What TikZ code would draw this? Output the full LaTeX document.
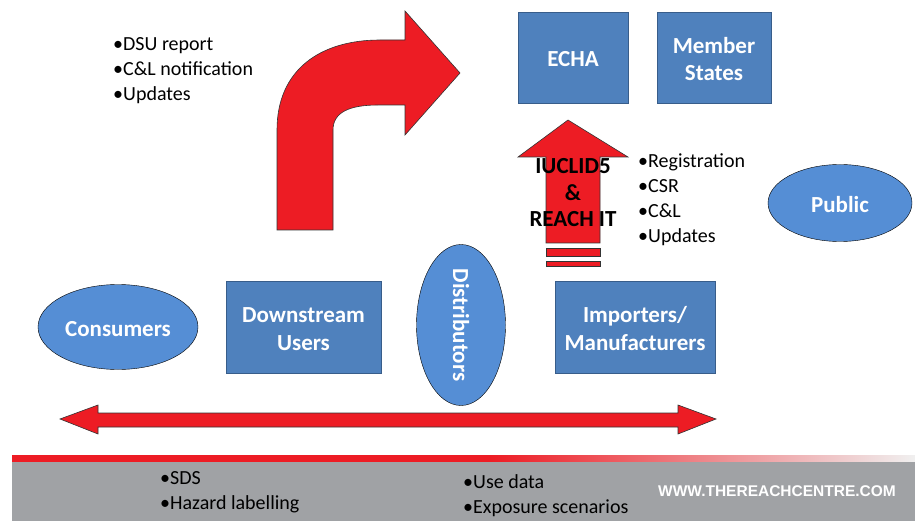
\documentclass[tikz,border=0pt]{standalone}
\usepackage{fontspec}
\setmainfont{Carlito}
\newfontfamily\webfont{Liberation Sans}
\usepackage{tikz}
\usetikzlibrary{shapes.geometric,positioning}

\definecolor{boxblue}{RGB}{79,129,189}
\definecolor{boxline}{RGB}{56,93,138}
\definecolor{ovalblue}{RGB}{85,142,213}
\definecolor{arrowred}{RGB}{237,28,36}
\definecolor{bandgray}{RGB}{160,162,165}

\tikzset{
  box/.style={draw=boxline, fill=boxblue, text=white, align=center,
    font=\fontsize{23}{27.5}\selectfont\bfseries},
  oval/.style={ellipse, draw=black, fill=ovalblue, text=white, inner sep=0pt,
    font=\fontsize{23}{27.5}\selectfont\bfseries},
  redshape/.style={draw=black!80, fill=arrowred, line width=0.6pt},
  listtxt/.style={anchor=north west, align=left, inner sep=0pt,
    font=\fontsize{20}{25}\selectfont},
}

\begin{document}
\begin{tikzpicture}[x=1pt,y=-1pt]
\useasboundingbox (0,0) rectangle (915,521);

% turning arrow
\draw[redshape] (277,230) -- (277,130) .. controls (277,70) and (320,40) .. (380,40)
  -- (405,40) -- (405,11) -- (460,73) -- (405,135) -- (405,105) -- (378,105)
  .. controls (350,105) and (333,112) .. (333,130) -- (333,230) -- cycle;

% upward arrow
\draw[redshape] (546,243) -- (546,157) -- (518,157) -- (568,120) -- (628,157)
  -- (600,157) -- (600,243) -- cycle;
\draw[redshape] (546,248) rectangle (600,256);
\draw[redshape] (546,261) rectangle (600,266);

% double arrow
\draw[redshape] (60,419) -- (98,405) -- (98,413) -- (678,413) -- (678,405)
  -- (716,419) -- (678,434) -- (678,427) -- (98,427) -- (98,434) -- cycle;

% boxes
\node[box, minimum width=110pt, minimum height=91pt] (echa) at (573,57.5) {\rule{0pt}{19pt}ECHA};
\node[box, minimum width=114pt, minimum height=91pt] (ms) at (714,57.5) {\rule{0pt}{19pt}Member\\States};
\node[box, minimum width=155pt, minimum height=92pt] (du) at (303.5,327) {\rule{0pt}{19pt}Downstream\\Users};
\node[box, minimum width=160pt, minimum height=92pt] (im) at (635,327) {\rule{0pt}{19pt}Importers/\\Manufacturers};

% ovals
\node[oval, minimum width=160pt, minimum height=85pt] (cons) at (118,327) {\rule{0pt}{19pt}Consumers};
\node[oval, minimum width=144pt, minimum height=77pt] (pub) at (840,203) {\rule{0pt}{19pt}Public};
\node[oval, minimum width=89pt, minimum height=161pt] (dist) at (461,325) {};
\node[rotate=-90, text=white, font=\fontsize{23}{27.5}\selectfont\bfseries] (distlab) at (dist.center) {Distributors};

% texts
\node[align=center, font=\fontsize{23}{26.5}\selectfont\bfseries] (it) at (573,193) {IUCLID5\\\&\\REACH IT};
\node[listtxt] (dsu) at (113,37) {•DSU report\\•C\&L notification\\•Updates};
\node[listtxt] (reg) at (638,153) {•Registration\\•CSR\\•C\&L\\•Updates};

% footer band
\fill[arrowred] (12,455) rectangle (490,462);
\shade[left color=arrowred, right color=gray!12] (490,455) rectangle (915,462);
\fill[bandgray] (12,462) rectangle (915,521);
\node[listtxt] (sds) at (160,471) {•SDS\\•Hazard labelling};
\node[listtxt] (use) at (463,474) {•Use data\\•Exposure scenarios};
\node[anchor=west, text=white, inner sep=0pt, font=\webfont\fontsize{15.5}{18}\selectfont\bfseries] (web) at (658,491) {WWW.THEREACHCENTRE.COM};

\end{tikzpicture}
\end{document}
